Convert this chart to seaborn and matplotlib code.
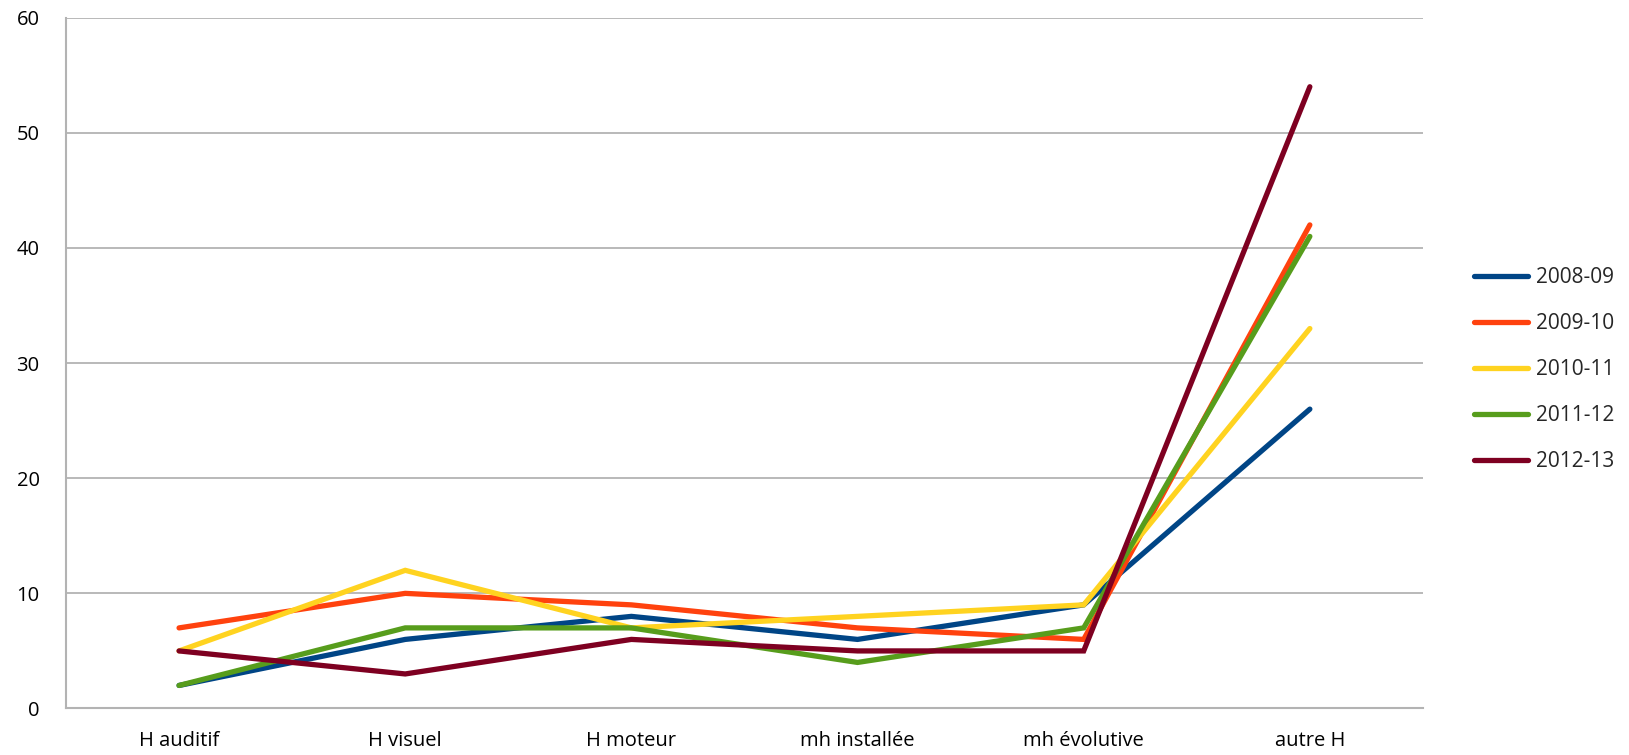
import matplotlib.pyplot as plt
import pandas as pd
import seaborn as sns

# Categories and series
categories = ["H auditif", "H visuel", "H moteur", "mh installée", "mh évolutive", "autre H"]
years = ["2008-09", "2009-10", "2010-11", "2011-12", "2012-13"]
v_2008 = [2, 6, 8, 6, 9, 26]
v_2009 = [7, 10, 9, 7, 6, 42]
v_2010 = [5, 12, 7, 8, 9, 33]
v_2011 = [2, 7, 7, 4, 7, 41]
v_2012 = [5, 3, 6, 5, 5, 54]
colors = ["#004586", "#ff420e", "#ffd320", "#579d1c", "#7e0021"]

series = [v_2008, v_2009, v_2010, v_2011, v_2012]
rows = []
for year, vals in zip(years, series):
    for i, (cat, v) in enumerate(zip(categories, vals)):
        rows.append({"pos": i, "Catégorie": cat, "Valeur": v, "Année": year})
df = pd.DataFrame(rows)

sns.set_style("white")
plt.rcParams["font.family"] = ["Open Sans", "DejaVu Sans"]

fig = plt.figure(figsize=(16.29, 7.55), dpi=100)
ax = fig.add_axes([0.0405, 0.0616, 0.833, 0.915])

sns.lineplot(
    data=df, x="pos", y="Valeur", hue="Année", palette=colors,
    linewidth=3.8, sort=False, ax=ax, legend=True,
    solid_capstyle="round", solid_joinstyle="miter",
)

ax.set_xlim(-0.5, len(categories) - 0.5)
ax.set_ylim(0, 60)
ax.set_yticks(range(0, 61, 10))
ax.set_xticks(range(len(categories)))
ax.set_xticklabels(categories)
ax.tick_params(axis="both", length=0, labelsize=14.5, labelcolor="black")
ax.tick_params(axis="x", pad=16)
ax.tick_params(axis="y", pad=19)
ax.set_xlabel("")
ax.set_ylabel("")
ax.grid(True, axis="y", color="#b3b3b3", linewidth=1.3)
ax.set_axisbelow(True)
for side in ["top", "right"]:
    ax.spines[side].set_visible(False)
for side in ["left", "bottom"]:
    ax.spines[side].set_color("#b3b3b3")
    ax.spines[side].set_linewidth(1.5)

handles, labels = ax.get_legend_handles_labels()
for h in handles:
    h.set_solid_capstyle("round")
    h.set_linewidth(3.8)
ax.legend(
    handles, labels, loc="center left", bbox_to_anchor=(1.024, 0.49),
    frameon=False, fontsize=15, handlelength=2.6, handletextpad=0.35,
    labelspacing=1.2,
)

fig.savefig("out.png", dpi=100)
